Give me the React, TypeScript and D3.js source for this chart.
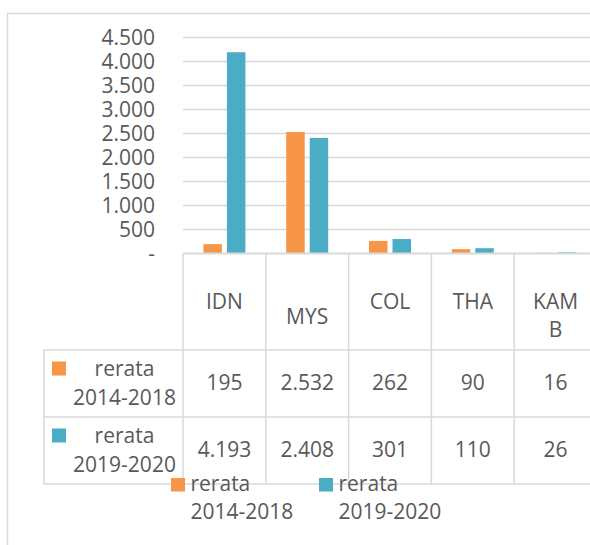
import * as d3 from "d3";

const categories = ["IDN", "MYS", "COL", "THA", "KAMB"];
const categoryLines = [["IDN"], ["MYS"], ["COL"], ["THA"], ["KAM", "B"]];
const seriesNames = ["rerata 2014-2018", "rerata 2019-2020"];
const seriesA = [195, 2532, 262, 90, 16];
const seriesB = [4193, 2408, 301, 110, 26];
const yTicks = [0, 500, 1000, 1500, 2000, 2500, 3000, 3500, 4000, 4500];

const W = 590;
const H = 545;
const COLORS = ["#F79646", "#4BACC6"];
const GRID = "#D9D9D9";
const TEXT = "#595959";
const FONT = "'Open Sans', sans-serif";
const FS = 21;

const PLOT = { left: 183, right: 597, top: 37.5, bottom: 253.5 };
const TABLE = { left: 44, headerBottom: 350, rowH: 67 };

const idFmt = d3.formatLocale({ decimal: ",", thousands: ".", grouping: [3], currency: ["", ""] }).format(",d");

export default function App() {
  const x0 = d3.scaleBand<string>().domain(categories).range([PLOT.left, PLOT.right]).padding(0);
  const x1 = d3
    .scaleBand<number>()
    .domain([0, 1])
    .range([0, x0.bandwidth()])
    .paddingInner(0.213)
    .paddingOuter(0.868);
  const y = d3.scaleLinear().domain([0, 4500]).range([PLOT.bottom, PLOT.top]);

  const series = [seriesA, seriesB];
  const rowTop = (i: number) => TABLE.headerBottom + i * TABLE.rowH;
  const tableBottom = rowTop(series.length);

  return (
    <svg
      width={W}
      height={H}
      viewBox={`0 0 ${W} ${H}`}
      style={{ position: "absolute", left: 0, top: 0, background: "#fff" }}
      fontFamily={FONT}
    >
      <rect x={7.5} y={13.5} width={620} height={600} fill="none" stroke={GRID} strokeWidth={1.5} />

      {yTicks.map((t) => (
        <g key={t}>
          {t > 0 && <line x1={PLOT.left} x2={PLOT.right} y1={y(t)} y2={y(t)} stroke={GRID} strokeWidth={1.5} />}
          <text x={155} y={y(t) + 7.5} textAnchor="end" fontSize={FS} fill={TEXT}>
            {t === 0 ? "-" : idFmt(t)}
          </text>
        </g>
      ))}

      {categories.map((c, ci) => (
        <g key={c}>
          {series.map((s, si) => (
            <rect
              key={si}
              x={(x0(c) ?? 0) + (x1(si) ?? 0)}
              y={y(s[ci])}
              width={x1.bandwidth()}
              height={PLOT.bottom - y(s[ci])}
              fill={COLORS[si]}
            />
          ))}
        </g>
      ))}

      {/* data table */}
      <line x1={PLOT.left} x2={PLOT.right} y1={PLOT.bottom} y2={PLOT.bottom} stroke={GRID} strokeWidth={2} />
      {[0, 1, 2].map((i) => (
        <line key={i} x1={TABLE.left} x2={PLOT.right} y1={rowTop(i)} y2={rowTop(i)} stroke={GRID} strokeWidth={1.5} />
      ))}
      <line x1={TABLE.left} x2={TABLE.left} y1={TABLE.headerBottom} y2={tableBottom} stroke={GRID} strokeWidth={1.5} />
      {categories.map((c) => (
        <line key={c} x1={x0(c)} x2={x0(c)} y1={PLOT.bottom} y2={tableBottom} stroke={GRID} strokeWidth={1.5} />
      ))}

      {categories.map((c, ci) => {
        const cx = (x0(c) ?? 0) + x0.bandwidth() / 2;
        const drop = c === "MYS" ? 15 : 0;
        return (
          <text key={c} textAnchor="middle" fontSize={FS} fill={TEXT}>
            {categoryLines[ci].map((l, li) => (
              <tspan key={li} x={cx} y={309 + drop + li * 28}>
                {l}
              </tspan>
            ))}
          </text>
        );
      })}

      {series.map((s, si) => (
        <g key={si}>
          <rect x={52} y={rowTop(si) + 11.5} width={14} height={14} fill={COLORS[si]} />
          <text textAnchor="middle" fontSize={FS} fill={TEXT}>
            {seriesNames[si].split(" ").map((l, li) => (
              <tspan key={li} x={124.5} y={rowTop(si) + 25.5 + li * 29.5}>
                {l}
              </tspan>
            ))}
          </text>
          {categories.map((c, ci) => (
            <text
              key={c}
              x={(x0(c) ?? 0) + x0.bandwidth() / 2}
              y={rowTop(si) + 40}
              textAnchor="middle"
              fontSize={FS}
              fill={TEXT}
            >
              {idFmt(s[ci])}
            </text>
          ))}
        </g>
      ))}

      {/* legend */}
      {seriesNames.map((name, si) => {
        const lx = [171, 319][si];
        return (
          <g key={name}>
            <rect x={lx} y={478} width={14} height={13.5} fill={COLORS[si]} />
            <text fontSize={FS} fill={TEXT}>
              {name.split(" ").map((l, li) => (
                <tspan key={li} x={lx + 19.5} y={491 + li * 28}>
                  {l}
                </tspan>
              ))}
            </text>
          </g>
        );
      })}
    </svg>
  );
}
